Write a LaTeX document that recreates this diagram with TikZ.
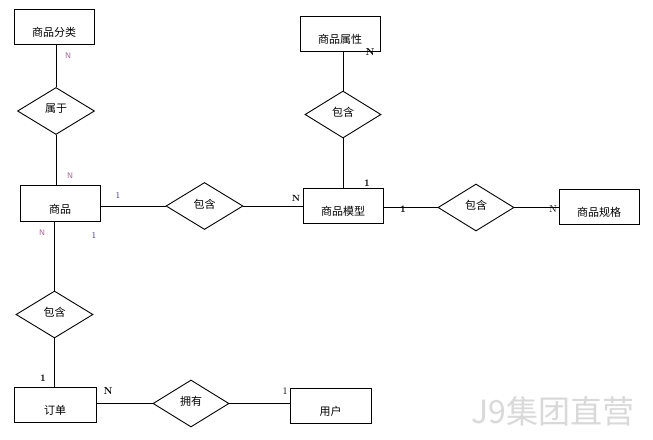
\documentclass[tikz,border=0pt]{standalone}
\usepackage{fontspec}
\newfontfamily\cjk{Noto Sans CJK SC}
\usetikzlibrary{shapes.geometric}
\definecolor{labn}{RGB}{165,95,145}
\definecolor{labone}{RGB}{45,45,110}
\tikzset{
  entity/.style={draw, line width=0.9pt, minimum width=80pt, minimum height=35pt,
    inner sep=0pt, text height=20pt, text depth=0pt, font=\cjk\fontsize{11}{11}\selectfont},
  relation/.style={draw, diamond, line width=0.9pt, minimum width=77pt, minimum height=47pt,
    inner sep=0pt, text depth=5pt, font=\cjk\fontsize{11}{11}\selectfont},
  conn/.style={line width=0.9pt},
  card/.style={inner sep=0pt, font=\bfseries\fontsize{10}{10}\selectfont},
  cardsm/.style={inner sep=0pt, font=\sffamily\fontsize{8}{8}\selectfont},
}
\begin{document}
\begin{tikzpicture}[x=1pt, y=-1pt]
  \useasboundingbox (0,0) rectangle (653,439);
  \fill[white] (0,0) rectangle (653,439);

  % entities
  \node[entity] (cat) at (54,26.5) {商品分类};
  \node[entity] (attr) at (340,33.5) {商品属性};
  \node[entity, minimum height=36pt] (goods) at (60,203.5) {商品};
  \node[entity] (model) at (343,205.5) {商品模型};
  \node[entity] (spec) at (599,206.5) {商品规格};
  \node[entity, minimum width=82pt] (order) at (55,404.5) {订单};
  \node[entity, minimum width=81pt] (user) at (330.5,405.5) {用户};

  % relations
  \node[relation] (belong) at (56,111) {属于};
  \node[relation, minimum width=76pt] (hasattr) at (343,114.5) {包含};
  \node[relation] (hasmodel) at (204.5,206) {包含};
  \node[relation, minimum width=76pt] (hasspec) at (476,207.5) {包含};
  \node[relation] (ingoods) at (54.5,314.5) {包含};
  \node[relation, minimum width=76pt] (own) at (191,403.5) {拥有};

  % connectors
  \draw[conn] (belong.north |- cat.south) -- (belong.north);
  \draw[conn] (belong.south) -- (belong.south |- goods.north);
  \draw[conn] (hasmodel.west -| goods.east) -- (hasmodel.west);
  \draw[conn] (hasmodel.east) -- (hasmodel.east -| model.west);
  \draw[conn] (hasattr.north) -- (hasattr.north |- attr.south);
  \draw[conn] (hasattr.south) -- (hasattr.south |- model.north);
  \draw[conn] (hasspec.west -| model.east) -- (hasspec.west);
  \draw[conn] (hasspec.east) -- (hasspec.east -| spec.west);
  \draw[conn] (ingoods.north |- goods.south) -- (ingoods.north);
  \draw[conn] (ingoods.south) -- (ingoods.south |- order.north);
  \draw[conn] (own.west -| order.east) -- (own.west);
  \draw[conn] (own.east) -- (own.east -| user.west);

  % cardinalities
  \node[cardsm, labn] (ncat) at (68,56) {N};
  \node[card] (nattr) at (370,52) {N};
  \node[cardsm, labn] (ngoodsup) at (70,176) {N};
  \node[cardsm, labn] (ngoodsdn) at (42,233) {N};
  \node[card, labone, font=\fontsize{9}{9}\selectfont] (onegoodsdn) at (94,235) {1};
  \node[card, labone, font=\fontsize{9}{9}\selectfont] (onegoods) at (118,196) {1};
  \node[card, font=\bfseries\fontsize{9}{9}\selectfont] (nmodel) at (296,198) {N};
  \node[card] (onemodelup) at (367,183) {1};
  \node[card] (onemodel) at (403,209) {1};
  \node[card, font=\fontsize{10}{10}\selectfont] (nspec) at (553,209) {N};
  \node[card] (oneorder) at (43,378) {1};
  \node[card] (norder) at (108,391) {N};
  \node[card, font=\fontsize{10}{10}\selectfont] (oneuser) at (285,391) {1};

  % watermark
  \node[gray!30, inner sep=0pt, font=\cjk\fontsize{32}{32}\selectfont] (mark) at (553,411) {J9集团直营};
\end{tikzpicture}
\end{document}
